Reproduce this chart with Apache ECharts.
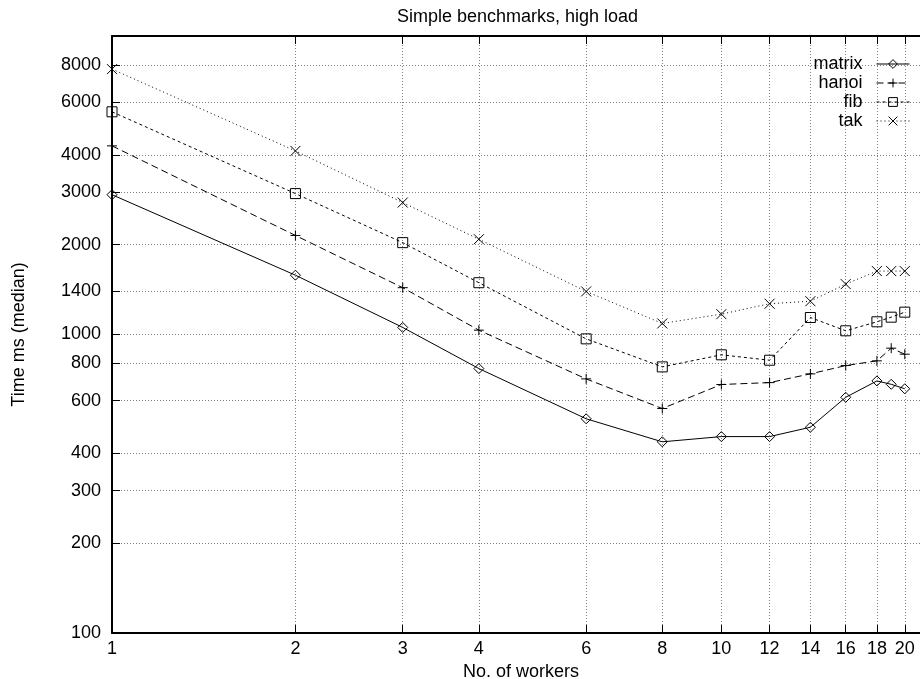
<!DOCTYPE html>
<html>
<head>
<meta charset="utf-8">
<script src="https://cdn.jsdelivr.net/npm/echarts@6/dist/echarts.min.js"></script>
<style>
  html, body { margin: 0; padding: 0; background: #fff; }
  #chart { width: 920px; height: 679px; }
</style>
</head>
<body>
<div id="chart"></div>
<script>
// Median run time (ms) per benchmark versus number of workers
const workers = [1, 2, 3, 4, 6, 8, 10, 12, 14, 16, 18, 19, 20];
const matrix  = [2940, 1580, 1056, 769, 522, 437, 455, 455, 489, 616, 699, 681, 658];
const hanoi   = [4285, 2147, 1435, 1034, 710, 565, 680, 690, 738, 787, 816, 900, 859];
const fib     = [5572, 2965, 2031, 1491, 967, 779, 855, 820, 1140, 1029, 1103, 1143, 1188];
const tak     = [7746, 4121, 2767, 2085, 1394, 1089, 1170, 1268, 1293, 1475, 1631, 1631, 1631];

const xTicks = [1, 2, 3, 4, 6, 8, 10, 12, 14, 16, 18, 20];
const yTicks = [100, 200, 300, 400, 600, 800, 1000, 1400, 2000, 3000, 4000, 6000, 8000];

// Both axes are logarithmic: values are placed on linear axes in log10 space
const lg = Math.log10;
const unlog = v => String(Math.round(Math.pow(10, v)));
const X_MIN = 1, X_MAX = 22, Y_MIN = 100, Y_MAX = 10000;

const FONT = 'Liberation Sans, Arial, Helvetica, sans-serif';
const gridLine = { show: true, lineStyle: { color: '#808080', width: 1, type: [1, 2] } };

function toPoints(values) {
  return workers.map((w, i) => [lg(w), lg(values[i])]);
}

const plusPath = 'path://M0,5L10,5M5,0L5,10';
const crossPath = 'path://M0,0L10,10M0,10L10,0';

function makeSeries(name, values, symbol, size, dash) {
  return {
    name: name,
    type: 'line',
    data: toPoints(values),
    symbol: symbol,
    symbolSize: size,
    showAllSymbol: true,
    animation: false,
    lineStyle: { color: '#000', width: 1, type: dash },
    itemStyle: { color: 'none', borderColor: '#000', borderWidth: 1 },
    emphasis: { disabled: true }
  };
}

const chart = echarts.init(document.getElementById('chart'), null, { renderer: 'canvas' });

chart.setOption({
  backgroundColor: '#fff',
  animation: false,
  textStyle: { fontFamily: FONT },
  title: {
    text: 'Simple benchmarks, high load',
    left: 392,
    top: 3,
    textStyle: { fontFamily: FONT, fontSize: 18, fontWeight: 'normal', color: '#000' }
  },
  legend: {
    orient: 'vertical',
    right: 10,
    top: 55,
    padding: 0,
    align: 'right',
    itemWidth: 33,
    itemHeight: 11,
    itemGap: 1,
    selectedMode: false,
    lineStyle: { width: 1 },
    itemStyle: { borderWidth: 1 },
    textStyle: { fontFamily: FONT, fontSize: 18, color: '#000', padding: [0, 9, 0, 0] },
    data: ['matrix', 'hanoi', 'fib', 'tak']
  },
  grid: { left: 112, right: -10, top: 36, bottom: 46, containLabel: false, outerBoundsMode: 'none' },
  xAxis: [
    {
      type: 'value',
      min: lg(X_MIN),
      max: lg(X_MAX),
      name: 'No. of workers',
      nameLocation: 'middle',
      nameGap: 20,
      nameTextStyle: { fontFamily: FONT, fontSize: 18, color: '#000' },
      axisLine: { show: true, onZero: false, lineStyle: { color: '#000', width: 2 } },
      axisTick: { show: true, inside: true, length: 8, lineStyle: { color: '#000', width: 1 },
                  customValues: xTicks.map(lg) },
      axisLabel: { show: true, margin: 7, fontFamily: FONT, fontSize: 18, color: '#000',
                   customValues: xTicks.map(lg), formatter: unlog },
      splitLine: gridLine
    },
    {
      type: 'value',
      position: 'top',
      min: lg(X_MIN),
      max: lg(X_MAX),
      axisLine: { show: true, onZero: false, lineStyle: { color: '#000', width: 2 } },
      axisTick: { show: true, inside: true, length: 8, lineStyle: { color: '#000', width: 1 },
                  customValues: xTicks.map(lg) },
      axisLabel: { show: false },
      splitLine: { show: false }
    }
  ],
  yAxis: {
    type: 'value',
    min: lg(Y_MIN),
    max: lg(Y_MAX),
    name: 'Time ms (median)',
    nameLocation: 'middle',
    nameRotate: 90,
    nameGap: 84,
    nameTextStyle: { fontFamily: FONT, fontSize: 18, color: '#000' },
    axisLine: { show: true, onZero: false, lineStyle: { color: '#000', width: 2 } },
    axisTick: { show: true, inside: true, length: 8, lineStyle: { color: '#000', width: 1 },
                customValues: yTicks.map(lg) },
    axisLabel: { show: true, margin: 11, fontFamily: FONT, fontSize: 18, color: '#000',
                 customValues: yTicks.map(lg), formatter: unlog },
    splitLine: gridLine
  },
  series: [
    makeSeries('matrix', matrix, 'diamond', 10, 'solid'),
    makeSeries('hanoi', hanoi, plusPath, 10, [7, 4]),
    makeSeries('fib', fib, 'rect', 10, [3, 3]),
    makeSeries('tak', tak, crossPath, 10, [1, 3])
  ]
});
</script>
</body>
</html>
